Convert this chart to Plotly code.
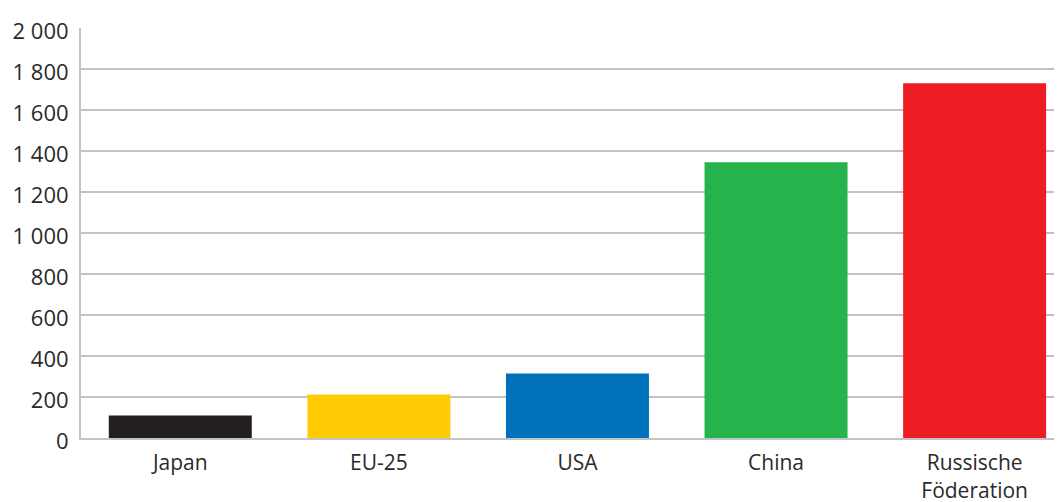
import plotly.graph_objects as go

categories = ["Japan", "EU-25", "USA", "China", "Russische<br>Föderation"]
values = [110, 212, 315, 1345, 1730]
colors = ["#231f20", "#ffcb05", "#0071bb", "#25b34b", "#ee1d23"]
tick_vals = [0, 200, 400, 600, 800, 1000, 1200, 1400, 1600, 1800, 2000]

fig = go.Figure(go.Bar(x=categories, y=values, marker_color=colors, marker_line_width=0, width=0.72))

grid = "#c3c2c7"
# the page body has an 8px default margin, so the figure is sized to fit the window
fig.update_layout(
    width=1054, height=494,
    margin=dict(l=73, r=0, t=19.5, b=63.5, autoexpand=False),
    plot_bgcolor="white", paper_bgcolor="white",
    separators=", ",
    font=dict(family="Open Sans", size=22, color="#2a2a2a"),
    showlegend=False,
)
fig.update_yaxes(
    range=[0, 2000], tickvals=tick_vals, tickformat=",d",
    showgrid=True, gridcolor=grid, gridwidth=2,
    showline=True, linecolor=grid, linewidth=2,
    zeroline=False, ticks="", ticklabelstandoff=6, ticklabelshift=3, automargin=False,
    tickfont=dict(size=22, color="#2a2a2a"),
)
fig.update_xaxes(
    range=[-0.5, 4.44], showline=True, linecolor=grid, linewidth=2,
    ticks="", ticklabelstandoff=5, automargin=False,
    tickfont=dict(size=21, color="#2a2a2a"),
)
fig.write_html("out.html")
